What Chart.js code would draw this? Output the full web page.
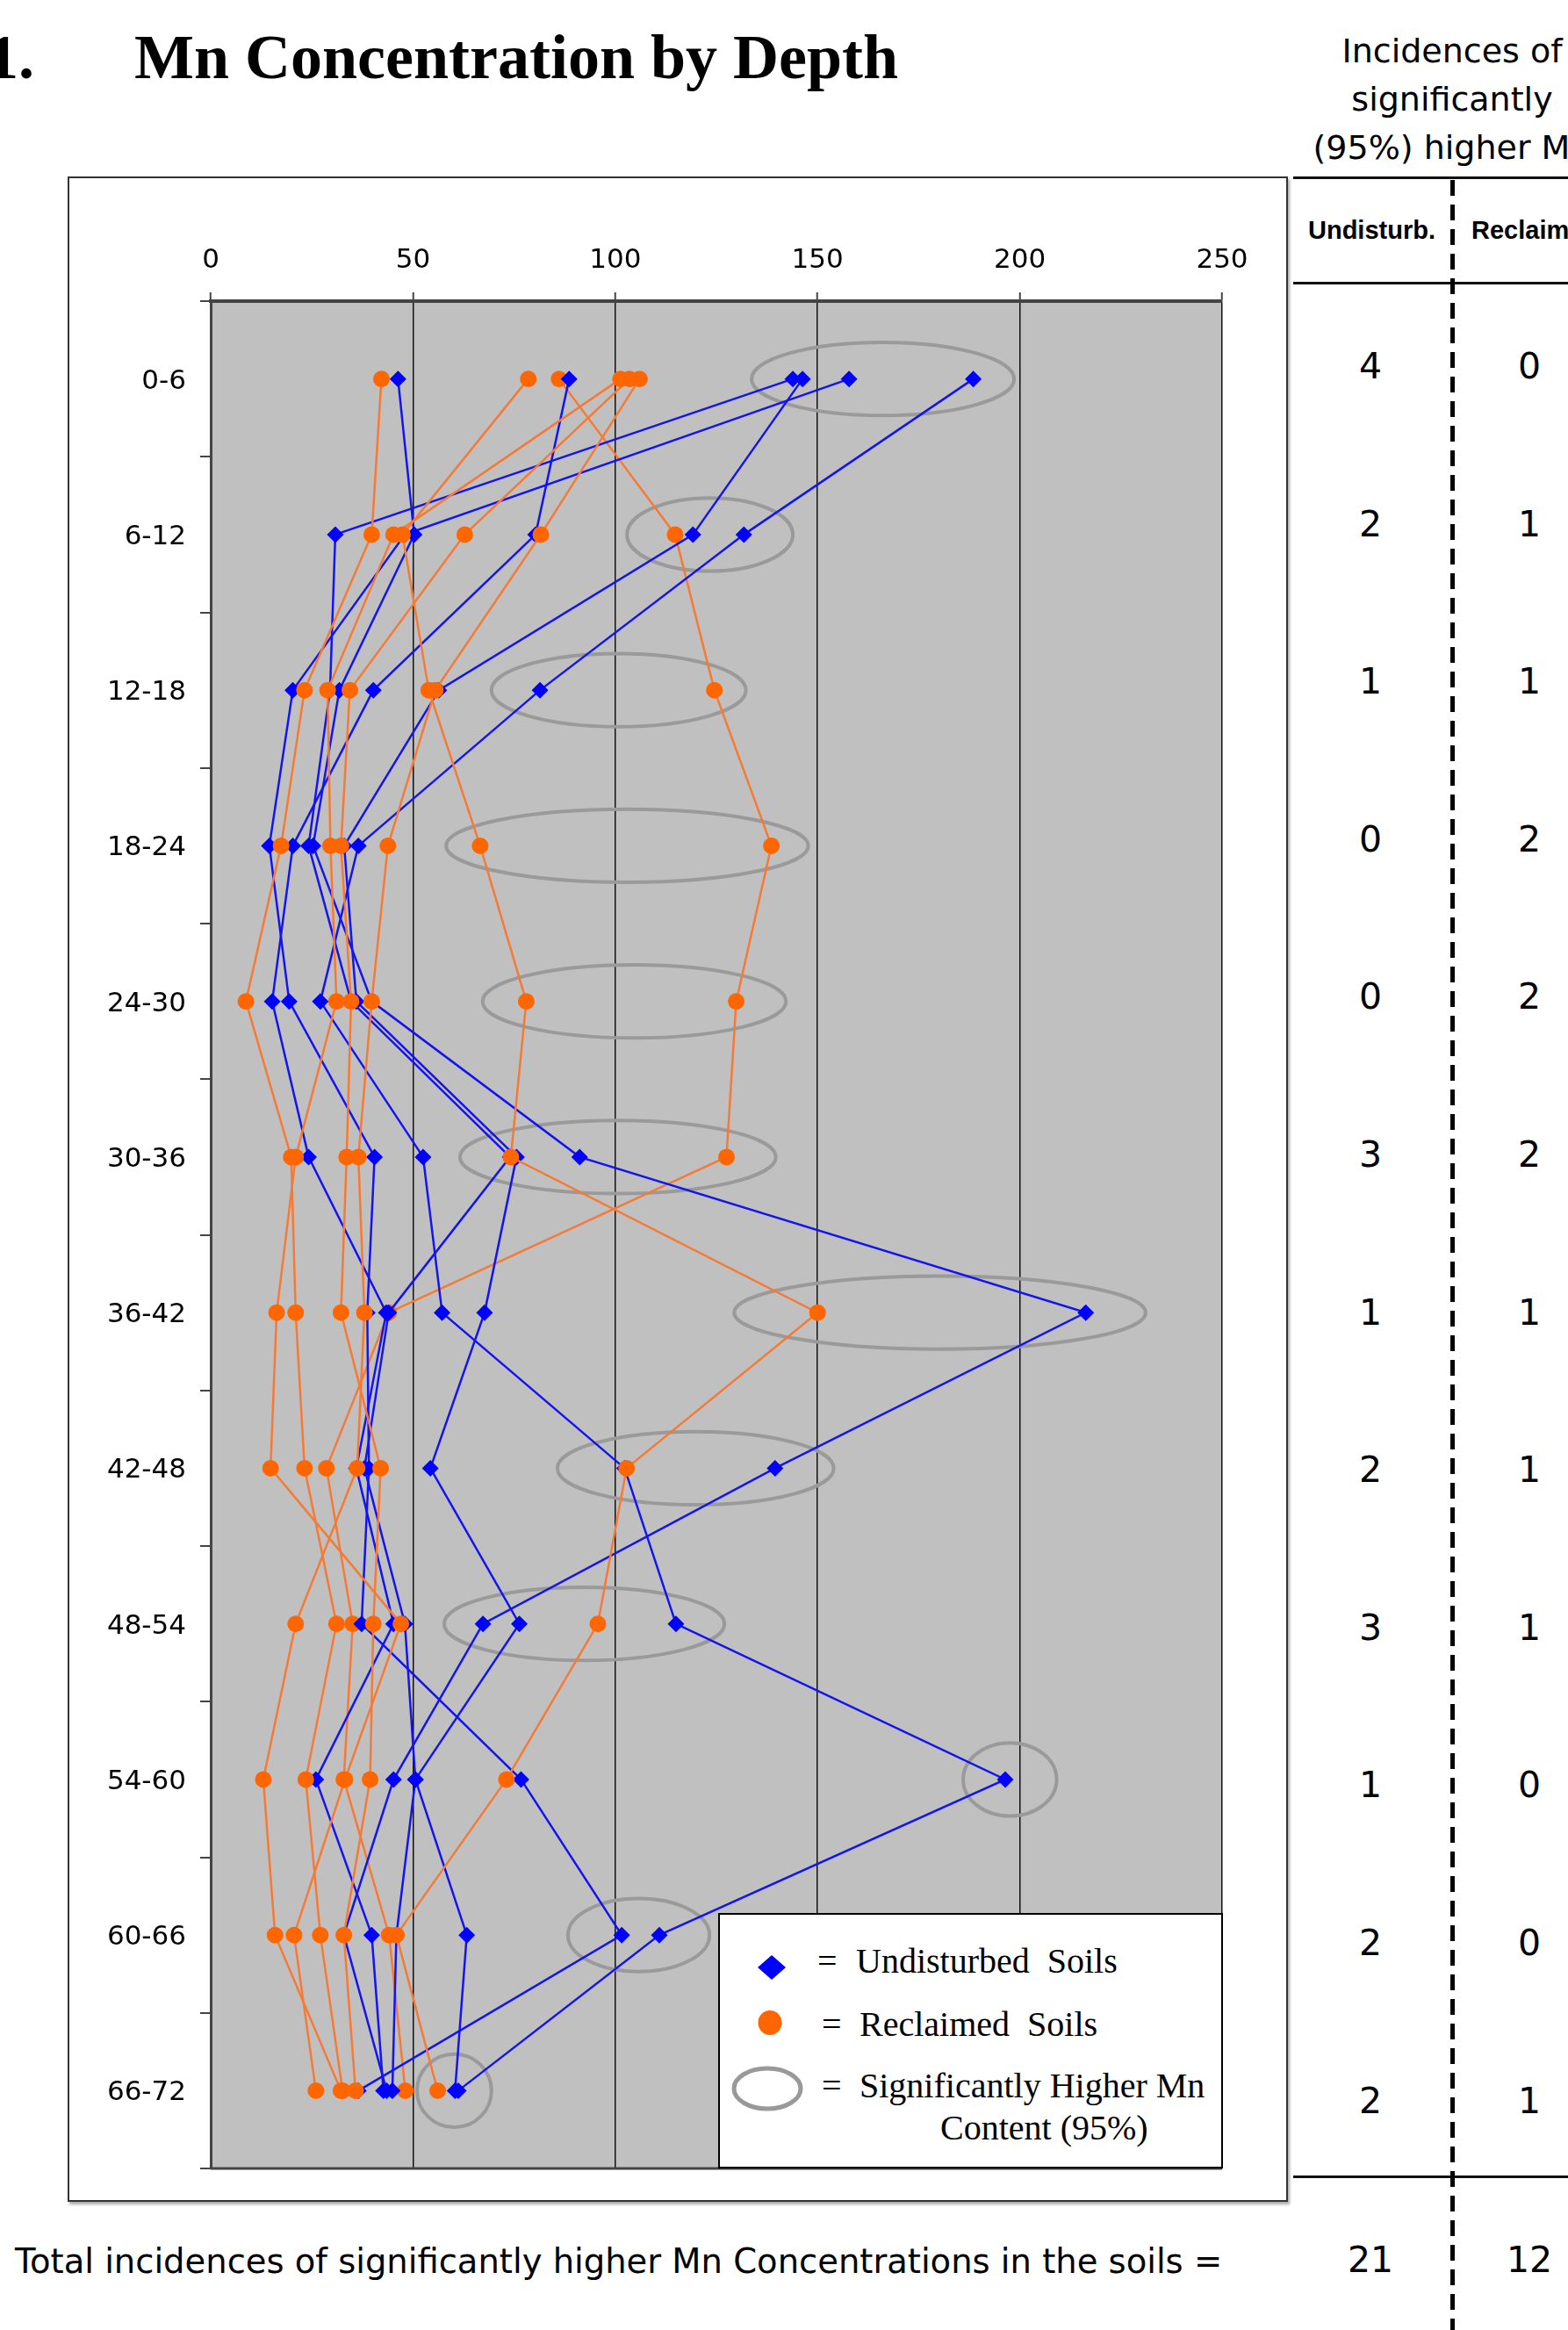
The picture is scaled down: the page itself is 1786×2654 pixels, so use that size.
<!DOCTYPE html>
<html>
<head>
<meta charset="utf-8">
<script src="https://cdn.jsdelivr.net/npm/chart.js@4.4.1/dist/chart.umd.min.js"></script>
<style>
    html, body { margin: 0; padding: 0; background: #fff; }
    body { position: relative; width: 1786px; height: 2654px; overflow: hidden; }
    .t { position: absolute; white-space: pre; line-height: 1; color: #000; }
    #frame { position: absolute; left: 77px; top: 201px; width: 1390px; height: 2307px; box-sizing: border-box;
             border: 2px solid #333; box-shadow: 2px 3px 3px #aaa; background: #fff; }
    #mnChart { position: absolute; left: 78px; top: 203px; }
    .hline { position: absolute; left: 1473px; width: 313px; height: 3px; background: #111; }
    #dash { position: absolute; left: 1652px; top: 205px; width: 5px; height: 2449px;
            background: repeating-linear-gradient(to bottom, #000 0 18px, transparent 18px 28px); }
    #legendBox { position: absolute; left: 818px; top: 2179px; width: 575px; height: 291px; box-sizing: border-box;
                 border: 2px solid #000; background: #fff; z-index: 2; }
    #legendIcons { position: absolute; left: 0; top: 0; z-index: 3; }
</style>
</head>
<body>
<div id="frame"></div>
<canvas id="mnChart" width="1388" height="2303"></canvas>
<div id="legendBox"></div>
<svg id="legendIcons" width="1786" height="2654">
    <polygon points="863,2241 879,2227 895,2241 879,2255" fill="#0000ff"/>
    <ellipse cx="877" cy="2304" rx="13.5" ry="14" fill="#ff6600"/>
    <ellipse cx="874" cy="2379" rx="38" ry="23" fill="none" stroke="#999" stroke-width="5"/>
</svg>
<div class="hline" style="top:201px"></div>
<div class="hline" style="top:321px"></div>
<div class="hline" style="top:2478px"></div>
<div id="dash"></div>

<script>
// depth rows (inches) and concentration axis ticks
const depthLabels = ['0-6', '6-12', '12-18', '18-24', '24-30', '30-36',
                     '36-42', '42-48', '48-54', '54-60', '60-66', '66-72'];
const xTicks = [0, 50, 100, 150, 200, 250];

// undisturbed soil profiles (Mn, one value per depth row)
const undisturbedA = [46.3, 50.3, 31.8, 25.3, 39.8, 91.2, 216.3, 139.5, 67.3, 45.2, 32.9, 43.5];
const undisturbedB = [88.6, 80.3, 40.2, 20.3, 15.2, 24.2, 43.4, 36.0, 45.2, 26.0, 39.8, 42.7];
const undisturbedC = [143.9, 30.8, 29.5, 24.2, 34.7, 74.0, 44.0, 38.0, 48.0, 50.6, 45.9, 44.9];
const undisturbedD = [146.3, 119.2, 56.4, 33.0, 36.0, 75.6, 67.7, 54.3, 76.3, 50.6, 63.3, 60.4];
const undisturbedE = [157.8, 48.0, 20.3, 14.5, 19.4, 40.5, 38.7, 39.1, 37.3, 76.7, 101.6, 36.5];
const undisturbedF = [188.5, 131.8, 81.4, 36.5, 27.1, 52.5, 57.2, 102.3, 115.0, 196.4, 110.9, 61.2];

// reclaimed soil profiles
const reclaimedA = [42.2, 39.8, 23.2, 17.4, 8.7, 19.9, 21.0, 23.2, 31.1, 23.5, 27.1, 32.6];
const reclaimedB = [78.5, 47.4, 53.9, 66.6, 78.0, 74.2, 150.0, 102.8, 95.7, 73.1, 45.9, 56.1];
const reclaimedC = [86.1, 114.8, 124.5, 138.6, 129.9, 127.5, 44.0, 28.6, 35.1, 32.9, 44.1, 48.1];
const reclaimedD = [101.3, 45.2, 28.9, 29.6, 31.1, 21.0, 16.3, 14.8, 47.0, 33.2, 20.6, 26.0];
const reclaimedE = [103.5, 62.8, 34.4, 32.2, 34.7, 33.6, 32.2, 42.0, 40.2, 39.4, 32.9, 35.8];
const reclaimedF = [106.0, 81.6, 55.5, 43.8, 39.8, 36.5, 38.0, 36.2, 21.0, 13.0, 15.9, 32.2];

// significantly higher groups: [row index, low Mn, high Mn]
const sigEllipses = [
    [0, 133.7, 198.6], [1, 102.9, 143.9], [2, 69.4, 132.3], [3, 58.2, 147.7],
    [4, 67.2, 142.2], [5, 61.6, 139.7], [6, 129.4, 231.1], [7, 85.7, 154.0],
    [8, 57.7, 127.0], [9, 186.0, 209.1], [10, 88.3, 123.3], [11, 51.0, 69.4]
];

// incidences table
const undisturbedCounts = [4, 2, 1, 0, 0, 3, 1, 2, 3, 1, 2, 2];
const reclaimedCounts = [0, 1, 1, 2, 2, 2, 1, 1, 1, 0, 0, 1];

const SANS = 'DejaVu Sans';
const SERIF = 'Liberation Serif';

function putText(str, x, baseline, size, family, opts) {
    opts = opts || {};
    const el = document.createElement('div');
    el.className = 't';
    el.textContent = str;
    el.style.fontFamily = family;
    el.style.fontSize = size + 'px';
    el.style.left = x + 'px';
    el.style.top = (baseline - 0.842 * size) + 'px';
    if (opts.bold) el.style.fontWeight = 'bold';
    if (opts.center) el.style.transform = 'translateX(-50%)';
    if (opts.z) el.style.zIndex = opts.z;
    document.body.appendChild(el);
}

// title and table headings
putText('1.', -15, 90, 72, SERIF, { bold: true });
putText('Mn Concentration by Depth', 153, 90, 72, SERIF, { bold: true });
putText('Incidences of', 1654, 71, 38, SANS, { center: true });
putText('significantly', 1654, 126, 38, SANS, { center: true });
putText('(95%) higher Mn', 1654, 181, 38, SANS, { center: true });
putText('Undisturb.', 1490, 272, 29, 'Liberation Sans', { bold: true });
putText('Reclaimed', 1676, 272, 29, 'Liberation Sans', { bold: true });

undisturbedCounts.forEach(function(v, i) {
    const base = 416.5 + 179.6 * i + 15;
    putText(String(v), 1561, base, 41, SANS, { center: true });
    putText(String(reclaimedCounts[i]), 1742, base, 41, SANS, { center: true });
});
const sum = arr => arr.reduce((a, b) => a + b, 0);
putText('Total incidences of significantly higher Mn Concentrations in the soils =', 17, 2589, 38.5, SANS);
putText(String(sum(undisturbedCounts)), 1561, 2589, 41, SANS, { center: true });
putText(String(sum(reclaimedCounts)), 1742, 2589, 41, SANS, { center: true });

// legend text
putText('=', 931, 2248, 40, SERIF, { z: 4 });
putText('Undisturbed  Soils', 975, 2248, 40, SERIF, { z: 4 });
putText('=', 936, 2320, 40, SERIF, { z: 4 });
putText('Reclaimed  Soils', 979, 2320, 40, SERIF, { z: 4 });
putText('=', 936, 2390, 40, SERIF, { z: 4 });
putText('Significantly Higher Mn', 979, 2390, 40, SERIF, { z: 4 });
putText('Content (95%)', 1071, 2438, 40, SERIF, { z: 4 });

function blueSet(data) {
    return {
        data: data, borderColor: '#1414f0', borderWidth: 2.5, backgroundColor: '#0000ff',
        pointStyle: 'rectRot', pointRadius: 9.5, pointBorderWidth: 0, tension: 0, fill: false, order: 0
    };
}
function orangeSet(data, order) {
    return {
        data: data, borderColor: '#f57a36', borderWidth: 2.5, backgroundColor: '#ff6600',
        pointStyle: 'circle', pointRadius: 9.5, pointBorderWidth: 0, tension: 0, fill: false, order: order || 0
    };
}

const plotDecor = {
    id: 'plotDecor',
    beforeDraw(chart) {
        const { ctx, chartArea: a } = chart;
        ctx.save();
        ctx.fillStyle = '#c0c0c0';
        ctx.fillRect(a.left, a.top, a.right - a.left, a.bottom - a.top);
        ctx.restore();
    },
    beforeDatasetsDraw(chart) {
        const { ctx } = chart;
        const xs = chart.scales.x, ys = chart.scales.y;
        const ry = (ys.getPixelForValue(1) - ys.getPixelForValue(0)) * 0.235;
        ctx.save();
        ctx.strokeStyle = '#9a9a9a';
        ctx.lineWidth = 4;
        sigEllipses.forEach(function(e) {
            const x0 = xs.getPixelForValue(e[1]), x1 = xs.getPixelForValue(e[2]);
            const cy = ys.getPixelForValue(e[0]);
            ctx.beginPath();
            ctx.ellipse((x0 + x1) / 2, cy, (x1 - x0) / 2, ry, 0, 0, Math.PI * 2);
            ctx.stroke();
        });
        ctx.restore();
    },
    afterDraw(chart) {
        const { ctx, chartArea: a } = chart;
        ctx.save();
        ctx.strokeStyle = '#444';
        ctx.lineWidth = 3;
        ctx.beginPath();
        ctx.moveTo(a.left, a.bottom);
        ctx.lineTo(a.right, a.bottom);
        ctx.stroke();
        ctx.restore();
    }
};

const mnChart = new Chart(document.getElementById('mnChart').getContext('2d'), {
    type: 'line',
    data: {
        labels: depthLabels,
        datasets: [
            orangeSet(reclaimedA), orangeSet(reclaimedB), orangeSet(reclaimedC, 1),
            orangeSet(reclaimedD), orangeSet(reclaimedE), orangeSet(reclaimedF),
            blueSet(undisturbedA), blueSet(undisturbedB), blueSet(undisturbedC),
            blueSet(undisturbedD), blueSet(undisturbedE), blueSet(undisturbedF)
        ]
    },
    options: {
        indexAxis: 'y',
        responsive: false,
        animation: false,
        devicePixelRatio: 1,
        layout: { padding: { left: 0, right: 74, top: 0, bottom: 36 } },
        plugins: {
            legend: { display: false },
            tooltip: { enabled: false }
        },
        scales: {
            x: {
                type: 'linear',
                position: 'top',
                min: xTicks[0],
                max: xTicks[xTicks.length - 1],
                afterBuildTicks: scale => { scale.ticks = xTicks.map(v => ({ value: v })); },
                ticks: { font: { family: SANS, size: 31 }, color: '#000', padding: 17 },
                grid: { color: '#111', lineWidth: 1.5, tickLength: 10, tickColor: '#444', tickWidth: 2 },
                border: { color: '#444', width: 4 },
                afterFit: scale => { scale.height = 140; }
            },
            y: {
                type: 'category',
                position: 'left',
                offset: true,
                ticks: { font: { family: SANS, size: 31 }, color: '#000', padding: 16, labelOffset: 3 },
                grid: { offset: true, drawOnChartArea: false, tickLength: 12, color: '#444', lineWidth: 2 },
                border: { color: '#444', width: 3 },
                afterFit: scale => { scale.width = 162; }
            }
        }
    },
    plugins: [plotDecor]
});
</script>
</body>
</html>
